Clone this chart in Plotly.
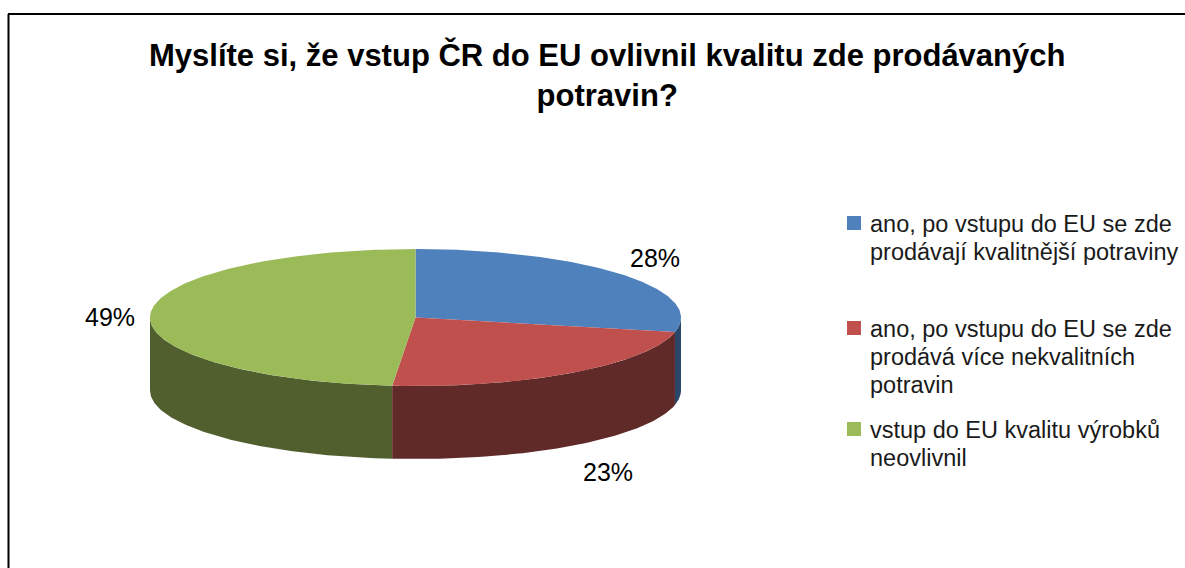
import numpy as np
import plotly.graph_objects as go

title = "Myslíte si, že vstup ČR do EU ovlivnil kvalitu zde prodávaných<br>potravin?"
categories = [
    "ano, po vstupu do EU se zde<br>prodávají kvalitnější potraviny",
    "ano, po vstupu do EU se zde<br>prodává více nekvalitních<br>potravin",
    "vstup do EU kvalitu výrobků<br>neovlivnil",
]
values = [28.4, 23.0, 48.6]
top_colors = ["#4F81BD", "#C0504D", "#9BBB59"]
side_colors = ["#2A4669", "#602A28", "#515F2F"]

FONT = "Liberation Sans, Arial, sans-serif"
cx, cy, rx, ry, depth = 415.5, 317.5, 265.5, 68.5, 73

def ex(t):
    return cx + rx * np.sin(t)

def ey(t):
    return cy - ry * np.cos(t)

fractions = np.array(values) / sum(values)
edges = np.concatenate([[0], np.cumsum(fractions)]) * 2 * np.pi

fig = go.Figure()

# side walls (only the front half of the rim, pi/2 .. 3pi/2, is visible)
for order in (0, 2, 1):
    a = max(edges[order], np.pi / 2)
    b = min(edges[order + 1], 3 * np.pi / 2)
    t = np.linspace(a, b, 90)
    xs = np.concatenate([ex(t), ex(t[::-1])])
    ys = np.concatenate([ey(t), ey(t[::-1]) + depth])
    fig.add_trace(go.Scatter(x=xs, y=ys, mode="lines", fill="toself", fillcolor=side_colors[order],
                             line=dict(width=0), hoverinfo="skip", showlegend=False))

# top faces
for i, name in enumerate(categories):
    t = np.linspace(edges[i], edges[i + 1], 180)
    xs = np.concatenate([[cx], ex(t), [cx]])
    ys = np.concatenate([[cy], ey(t), [cy]])
    fig.add_trace(go.Scatter(x=xs, y=ys, mode="lines", fill="toself", fillcolor=top_colors[i],
                             line=dict(width=0), name=name.replace("<br>", " "),
                             hoverinfo="name", showlegend=False))

annotations = [dict(text=f"<b>{title}</b>", x=607, y=74.5, xref="x", yref="y", showarrow=False,
                    font=dict(family=FONT, size=31, color="black"), align="center",
                    xanchor="center", yanchor="middle")]

# percentage labels
label_pos = [(655, 258), (608, 472), (110, 317)]
for v, (lx, ly) in zip(values, label_pos):
    annotations.append(dict(text=f"{round(v)}%", x=lx, y=ly, xref="x", yref="y", showarrow=False,
                            font=dict(family=FONT, size=25, color="black"),
                            xanchor="center", yanchor="middle"))

# legend
legend_first_line = [224, 329, 430]
line_pitch = 28
shapes = [
    dict(type="line", x0=8.5, x1=8.5, y0=14, y1=568, xref="x", yref="y", line=dict(color="black", width=2)),
    dict(type="line", x0=8, x1=1185, y0=14, y1=14, xref="x", yref="y", line=dict(color="black", width=2)),
]
for name, col, first in zip(categories, top_colors, legend_first_line):
    shapes.append(dict(type="rect", x0=847, x1=861, y0=first - 8, y1=first + 6, xref="x", yref="y",
                       fillcolor=col, line=dict(width=0)))
    for k, line in enumerate(name.split("<br>")):
        annotations.append(dict(text=line, x=867.5, y=first + k * line_pitch, xref="x", yref="y",
                                showarrow=False, align="left",
                                font=dict(family=FONT, size=23.5, color="#1a1a1a"),
                                xanchor="left", yanchor="middle"))

fig.update_layout(
    width=1185, height=568, autosize=False,
    margin=dict(l=0, r=0, t=0, b=0),
    paper_bgcolor="white", plot_bgcolor="white",
    xaxis=dict(range=[0, 1185], visible=False, fixedrange=True),
    yaxis=dict(range=[568, 0], visible=False, fixedrange=True),
    shapes=shapes, annotations=annotations, showlegend=False,
)
fig.write_html("out.html", config=dict(displayModeBar=False),
               post_script="document.body.style.margin='0';document.documentElement.style.overflow='hidden';")
